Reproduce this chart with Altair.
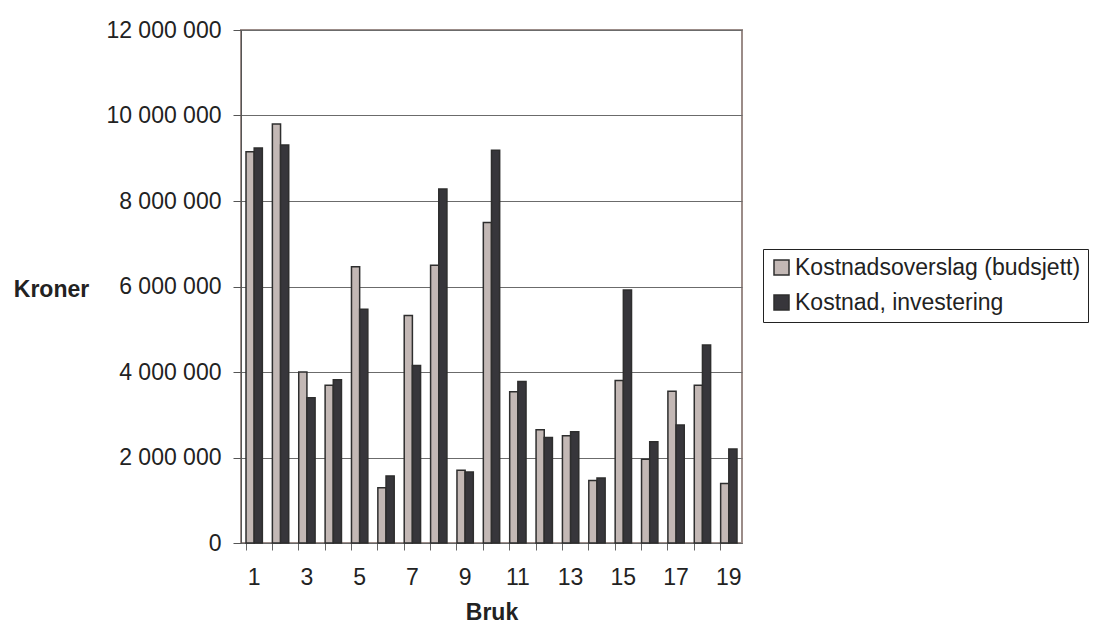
import altair as alt
import pandas as pd

bruk = list(range(1, 20))
series = ["Kostnadsoverslag (budsjett)", "Kostnad, investering"]
budsjett = [9150000, 9800000, 4000000, 3690000, 6460000, 1290000, 5320000, 6500000, 1700000, 7500000,
            3540000, 2650000, 2510000, 1460000, 3800000, 1960000, 3550000, 3690000, 1390000]
investering = [9240000, 9310000, 3400000, 3820000, 5470000, 1570000, 4150000, 8280000, 1660000, 9190000,
               3780000, 2470000, 2600000, 1520000, 5920000, 2370000, 2760000, 4630000, 2200000]
y_ticks = [0, 2000000, 4000000, 6000000, 8000000, 10000000, 12000000]

rows = []
for b, v1, v2 in zip(bruk, budsjett, investering):
    rows.append({"Bruk": b, "Serie": series[0], "Kroner": v1})
    rows.append({"Bruk": b, "Serie": series[1], "Kroner": v2})
df = pd.DataFrame(rows)

FONT = "Liberation Sans"

chart = alt.Chart(df).mark_bar(stroke="#2e2e2e", strokeWidth=1.5).encode(
    x=alt.X("Bruk:O", title="Bruk",
            scale=alt.Scale(paddingInner=0.38, paddingOuter=0.19),
            axis=alt.Axis(labelAngle=0,
                          labelExpr="datum.value % 2 == 1 ? datum.label : ''",
                          bandPosition=0, tickSize=7,
                          labelPadding=16, titlePadding=12, grid=False,
                          domainColor="#666", tickColor="#666")),
    xOffset=alt.XOffset("Serie:N", sort=series,
                        scale=alt.Scale(domain=series, paddingInner=0, paddingOuter=0)),
    y=alt.Y("Kroner:Q", title="Kroner",
            scale=alt.Scale(domain=[0, 12000000], nice=False),
            axis=alt.Axis(values=y_ticks,
                          labelExpr="replace(format(datum.value, ','), regexp(',', 'g'), ' ')",
                          tickSize=8, labelPadding=12, grid=True,
                          gridColor="#6b6b6b", gridWidth=1,
                          domainColor="#555", tickColor="#555",
                          titleAngle=0, titleAlign="center", titleBaseline="middle",
                          titleX=-190, titleY=259)),
    color=alt.Color("Serie:N", sort=series,
                    scale=alt.Scale(domain=series, range=["#c3b8b5", "#37363b"]),
                    legend=alt.Legend(title=None, orient="none", legendX=522, legendY=219,
                                      strokeColor="#222", fillColor="white", padding=7,
                                      symbolType="square", symbolSize=225,
                                      symbolStrokeColor="#2e2e2e", symbolStrokeWidth=1.5,
                                      labelFont=FONT, labelFontSize=23, labelColor="#222",
                                      labelOffset=2, rowPadding=11, labelLimit=400)),
).properties(
    width=501, height=513,
    autosize=alt.AutoSizeParams(type="none"),
    padding={"left": 233, "top": 22, "right": 352, "bottom": 81},
).configure_view(
    stroke="#9b8c88", strokeWidth=2
).configure_axis(
    labelFont=FONT, labelFontSize=23, labelColor="#222",
    titleFont=FONT, titleFontSize=23, titleFontWeight="bold", titleColor="#222",
)

chart.save("out.html", embed_options={"renderer": "svg", "actions": False})
